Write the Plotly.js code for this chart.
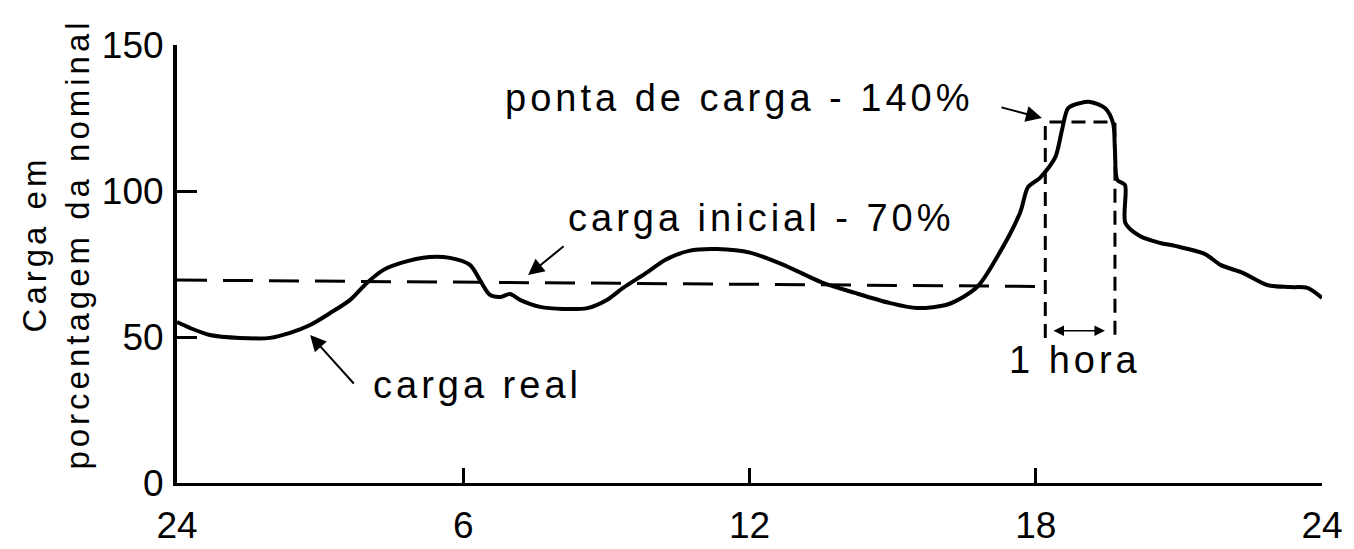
<!DOCTYPE html>
<html>
<head>
<meta charset="utf-8">
<script src="https://cdn.plot.ly/plotly-3.0.1.min.js"></script>
<style>
  html, body { margin: 0; padding: 0; background: #fff; }
  #chart { width: 1354px; height: 549px; }
  .annotation-text { letter-spacing: 4px; }
</style>
</head>
<body>
<div id="chart"></div>
<script>
// --- data ---
const hours = [0, 0.27, 0.69, 1.32, 1.95, 2.37, 2.79, 3.21, 3.63, 3.98, 4.32, 4.68, 5.30, 5.72, 6.14, 6.35, 6.56, 6.77, 6.98, 7.19, 7.61, 8.09, 8.60, 9.01, 9.35, 9.87, 10.23, 10.73, 11.32, 12.03, 12.77, 13.50, 14.21, 14.95, 15.51, 16.18, 16.77, 17.19, 17.67, 17.84, 18.09, 18.41, 18.55, 18.68, 18.93, 19.14, 19.45, 19.62, 19.66, 19.71, 19.87, 19.88, 20.19, 20.61, 20.92, 21.55, 21.87, 22.35, 22.85, 23.33, 23.69, 24.0];
const load  = [55.1, 53.1, 50.7, 49.7, 49.7, 51.4, 54.1, 58.2, 62.7, 68.5, 72.9, 75.3, 77.4, 77.1, 74.7, 69.5, 64.4, 63.7, 64.7, 62.7, 60.3, 59.6, 59.9, 62.7, 66.8, 72.3, 76.4, 79.5, 80.1, 78.8, 74.3, 68.8, 65.1, 61.6, 59.9, 61.3, 67.1, 77.4, 92.5, 101.4, 104.5, 111.6, 120.9, 128.4, 130.1, 130.5, 128.4, 123.3, 114.0, 103.8, 102.1, 89.0, 84.5, 82.2, 81.2, 78.4, 74.7, 71.9, 67.8, 67.1, 66.8, 63.4];

const initialX = [0, 18.2];
const initialY = [69.5, 67.3];

const peakBoxX = [18.2, 18.2, 19.66, 19.66];
const peakBoxY = [49.7, 123.6, 123.6, 49.7];

const tickVals = [0, 6, 12, 18, 24];
const tickText = ['24', '6', '12', '18', '24'];
const yTickVals = [0, 50, 100, 150];

const labels = {
  peak: 'ponta de carga - 140%',
  initial: 'carga inicial - 70%',
  real: 'carga real',
  hour: '1 hora',
  yTitle: 'Carga em<br>porcentagem da nominal'
};

// --- chart ---
const FONT = 'Liberation Sans, Arial, sans-serif';

const traces = [
  {
    x: initialX, y: initialY, mode: 'lines', hoverinfo: 'skip',
    line: { color: '#000', width: 3, dash: '30px,16px' }
  },
  {
    x: peakBoxX, y: peakBoxY, mode: 'lines', hoverinfo: 'skip',
    line: { color: '#000', width: 3, dash: '14px,8px' }
  },
  {
    x: hours, y: load, mode: 'lines', hoverinfo: 'skip',
    line: { color: '#000', width: 4, shape: 'spline', smoothing: 0.8 }
  }
];

const txt = (text, x, y, size) => ({
  text: text, x: x, y: y, xref: 'x', yref: 'y', showarrow: false,
  xanchor: 'center', yanchor: 'middle',
  font: { family: FONT, size: size || 38, color: '#000' }
});

const arrow = (x, y, ax, ay) => ({
  text: '', x: x, y: y, xref: 'x', yref: 'y', ax: ax, ay: ay,
  showarrow: true, arrowhead: 2, arrowsize: 1.6, arrowwidth: 2, arrowcolor: '#000', standoff: 0
});

const annotations = [
  txt(labels.peak, 11.78, 131.8),
  txt(labels.initial, 12.24, 90.8),
  txt(labels.real, 6.29, 33.6),
  txt(labels.hour, 18.83, 42.1),
  arrow(2.79, 50.7, 45, 50),
  arrow(7.36, 71.2, 37, -30),
  arrow(18.13, 125, -42, -11),
  {
    text: '', x: 19.45, y: 52.1, ax: 18.34, ay: 52.1, axref: 'x', ayref: 'y',
    xref: 'x', yref: 'y', showarrow: true, arrowhead: 2, arrowside: 'end+start',
    arrowsize: 1.4, arrowwidth: 1.5, arrowcolor: '#000', standoff: 0, startstandoff: 0
  },
  {
    text: labels.yTitle, xref: 'paper', yref: 'paper', x: -0.106, y: 0.5457,
    xanchor: 'center', yanchor: 'middle', textangle: -90, showarrow: false,
    font: { family: FONT, size: 33, color: '#000' }
  }
];

const layout = {
  width: 1354, height: 549,
  margin: { l: 177, r: 32, t: 45, b: 66 },
  paper_bgcolor: '#fff', plot_bgcolor: '#fff',
  showlegend: false,
  xaxis: {
    range: [0, 24], tickvals: tickVals, ticktext: tickText,
    ticks: 'inside', ticklen: 15, tickwidth: 3, tickcolor: '#000',
    showline: true, linewidth: 3, linecolor: '#000',
    showgrid: false, zeroline: false, fixedrange: true,
    ticklabelstandoff: 8,
    tickfont: { family: FONT, size: 37, color: '#000' }
  },
  yaxis: {
    range: [0, 150], tickvals: yTickVals,
    ticks: 'inside', ticklen: 20, tickwidth: 3, tickcolor: '#000',
    showline: true, linewidth: 4, linecolor: '#000',
    showgrid: false, zeroline: false, fixedrange: true,
    ticklabelstandoff: 2,
    tickfont: { family: FONT, size: 37, color: '#000' }
  },
  annotations: annotations
};

Plotly.newPlot('chart', traces, layout, { displayModeBar: false, staticPlot: true });
</script>
</body>
</html>
